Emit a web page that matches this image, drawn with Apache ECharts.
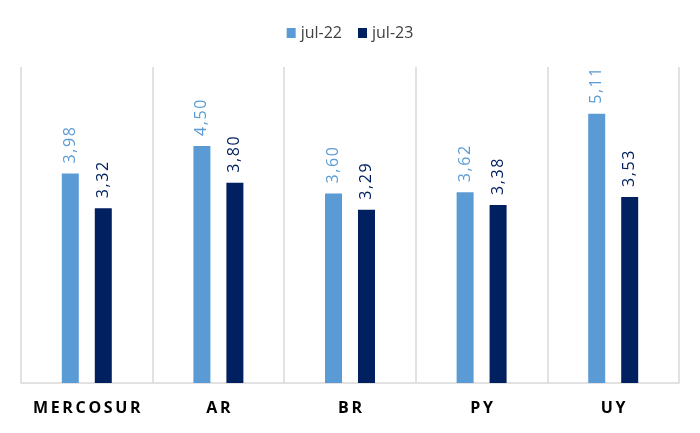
<!DOCTYPE html>
<html>
<head>
<meta charset="utf-8">
<script src="https://cdn.jsdelivr.net/npm/echarts@6/dist/echarts.min.js"></script>
<style>
  html, body { margin: 0; padding: 0; background: #fff; }
  #main { width: 700px; height: 433px; }
</style>
</head>
<body>
<div id="main"></div>
<script>
var categories = ["MERCOSUR", "AR", "BR", "PY", "UY"];
var seriesNames = ["jul-22", "jul-23"];
var jul22 = [3.98, 4.50, 3.60, 3.62, 5.11];
var jul23 = [3.32, 3.80, 3.29, 3.38, 3.53];

var myChart = echarts.init(document.getElementById("main"));

function fmtValue(p) {
    return p.value.toFixed(2).replace(".", ",").split("").join("\u200A");
}

// spread letters a bit like the original axis labels
function spaced(s) {
    return s.split("").join("\u2009");
}

function valueLabel(color) {
    return {
        show: true,
        position: "top",
        rotate: 90,
        align: "left",
        verticalAlign: "middle",
        distance: 10,
        fontFamily: "Open Sans",
        fontSize: 16,
        color: color,
        formatter: fmtValue
    };
}

var option = {
    animation: false,
    legend: {
        top: 20,
        left: "center",
        itemWidth: 9,
        itemHeight: 10,
        itemGap: 16,
        icon: "rect",
        textStyle: { fontFamily: "Open Sans", fontSize: 16, color: "#404040" },
        data: seriesNames
    },
    grid: { left: 21, right: 21, top: 67, bottom: 50 },
    xAxis: {
        type: "category",
        data: categories,
        axisTick: { show: false, interval: 0 },
        axisLine: { lineStyle: { color: "#d9d9d9", width: 1.5 } },
        splitLine: { show: true, interval: 0, lineStyle: { color: "#d9d9d9", width: 1.5 } },
        axisLabel: {
            interval: 0,
            margin: 17,
            fontFamily: "Open Sans",
            fontWeight: "bold",
            fontSize: 16,
            color: "#000",
            formatter: spaced
        }
    },
    yAxis: {
        type: "value",
        min: 0,
        max: 6,
        show: false,
        splitLine: { show: false }
    },
    series: [
        {
            name: seriesNames[0],
            type: "bar",
            data: jul22,
            barWidth: 17,
            barGap: "94%",
            itemStyle: { color: "#5b9bd5" },
            label: valueLabel("#5b9bd5")
        },
        {
            name: seriesNames[1],
            type: "bar",
            data: jul23,
            barWidth: 17,
            itemStyle: { color: "#002060" },
            label: valueLabel("#002060")
        }
    ]
};

myChart.setOption(option);
</script>
</body>
</html>
